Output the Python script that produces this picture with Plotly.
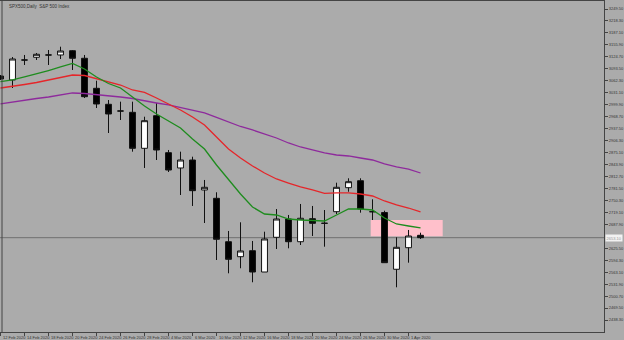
import plotly.graph_objects as go

# ---- data ----
idx = list(range(36))
open_ = [3074.8, 3064.4, 3116.5, 3123.6, 3129.6, 3129.6, 3140.8, 3121.0, 3042.7, 3001.0,
         2983.5, 2980.1, 2886.2, 2971.3, 2874.8, 2834.9, 2855.7, 2777.5, 2755.8, 2642.6,
         2603.5, 2619.2, 2563.6, 2654.1, 2701.8, 2642.6, 2702.6, 2690.6, 2720.9, 2783.5,
         2801.7, 2720.9, 2718.8, 2570.7, 2627.0, 2659.3]
high_ = [3077.4, 3124.3, 3129.6, 3134.8, 3142.6, 3151.2, 3142.6, 3129.6, 3062.5, 3012.2,
         3007.8, 3007.8, 2968.6, 3004.4, 2881.8, 2877.4, 2864.3, 2803.6, 2771.5, 2670.6,
         2693.2, 2644.5, 2668.7, 2727.9, 2712.3, 2741.0, 2735.8, 2725.3, 2796.5, 2808.0,
         2808.0, 2753.2, 2723.5, 2654.1, 2673.2, 2666.1]
low_ = [3064.4, 3043.5, 3103.5, 3116.5, 3103.5, 3119.1, 3090.4, 3017.4, 2991.3, 2926.1,
        2960.0, 2877.4, 2834.9, 2855.7, 2824.4, 2764.4, 2735.8, 2691.4, 2594.9, 2560.2,
        2573.3, 2536.8, 2563.6, 2623.6, 2625.4, 2634.0, 2657.5, 2629.6, 2714.9, 2773.0,
        2718.3, 2699.2, 2587.9, 2523.7, 2587.9, 2649.7]
close_ = [3067.0, 3119.1, 3116.5, 3131.4, 3129.6, 3140.0, 3121.0, 3020.8, 3001.8, 2975.7,
          2983.5, 2886.2, 2958.2, 2881.8, 2829.6, 2855.7, 2775.7, 2784.5, 2648.9, 2596.7,
          2618.4, 2563.6, 2649.7, 2701.8, 2642.6, 2703.7, 2690.6, 2690.6, 2784.5, 2799.1,
          2727.9, 2720.9, 2587.9, 2628.0, 2657.5, 2653.1]

ma_fast = [3059.9, 3064.4, 3072.2, 3080.0, 3089.1, 3098.3, 3107.4, 3093.0, 3072.2, 3055.2,
           3043.5, 3020.0, 2996.6, 2975.7, 2957.4, 2939.2, 2910.5, 2884.4, 2842.7, 2803.6,
           2767.0, 2733.1, 2714.9, 2712.3, 2701.8, 2699.2, 2697.9, 2696.6, 2712.3, 2727.9,
           2727.9, 2725.3, 2704.5, 2688.8, 2683.6, 2678.4]
ma_mid = [3043.5, 3047.4, 3052.6, 3057.8, 3064.4, 3070.9, 3077.4, 3076.1, 3068.3, 3060.4,
          3051.3, 3038.3, 3031.8, 3017.4, 3001.8, 2986.1, 2967.9, 2947.0, 2915.7, 2884.4,
          2860.9, 2840.1, 2821.8, 2806.2, 2795.7, 2785.3, 2777.5, 2768.4, 2769.7, 2769.7,
          2767.0, 2761.8, 2748.8, 2738.4, 2730.5, 2720.1]
ma_slow = [3001.8, 3007.0, 3012.2, 3016.1, 3020.0, 3025.2, 3030.5, 3029.2, 3026.6, 3023.9,
           3020.0, 3016.1, 3009.6, 3004.4, 2999.2, 2992.6, 2984.8, 2978.3, 2966.6, 2954.8,
           2943.1, 2934.0, 2923.5, 2913.1, 2900.1, 2889.6, 2881.8, 2874.0, 2868.8, 2866.2,
           2860.9, 2855.7, 2845.3, 2837.5, 2832.2, 2821.8]

date_ticks = [0, 2, 4, 6, 8, 10, 12, 14, 16, 18, 20, 22, 24, 26, 28, 30, 32, 34]
date_labels = ["12 Feb 2020", "14 Feb 2020", "18 Feb 2020", "20 Feb 2020", "24 Feb 2020",
               "26 Feb 2020", "28 Feb 2020", "4 Mar 2020", "6 Mar 2020", "10 Mar 2020",
               "12 Mar 2020", "16 Mar 2020", "18 Mar 2020", "20 Mar 2020", "24 Mar 2020",
               "26 Mar 2020", "30 Mar 2020", "1 Apr 2020"]

price_ticks = [3249.5, 3218.3, 3187.1, 3155.9, 3124.7, 3093.5, 3062.3, 3031.1, 2999.9,
               2968.7, 2937.5, 2906.3, 2875.1, 2843.9, 2812.7, 2781.5, 2750.3, 2719.1,
               2687.9, 2625.5, 2594.3, 2563.1, 2531.9, 2500.7, 2469.5, 2438.3]

zone_x = [30.85, 36.85]
zone_y = [2656.7, 2699.0]
last_price = close_[-1]
title_text = "SPX500,Daily  S&P 500 Index"

# ---- figure ----
BG = "#ABABAB"
AX = "#444444"
fig = go.Figure()

fig.add_trace(go.Scatter(x=idx, y=ma_slow, mode="lines",
                         line=dict(color="#8E2A9C", width=1.3), hoverinfo="skip"))
fig.add_trace(go.Scatter(x=idx, y=ma_mid, mode="lines",
                         line=dict(color="#E5262A", width=1.3), hoverinfo="skip"))
fig.add_trace(go.Scatter(x=idx, y=ma_fast, mode="lines",
                         line=dict(color="#1E8C1E", width=1.3), hoverinfo="skip"))

fig.add_trace(go.Candlestick(
    x=idx, open=open_, high=high_, low=low_, close=close_,
    increasing=dict(line=dict(color="#111111", width=1), fillcolor="#FFFFFF"),
    decreasing=dict(line=dict(color="#111111", width=1), fillcolor="#000000"),
    whiskerwidth=0, hoverinfo="skip"))

fig.add_shape(type="rect", x0=zone_x[0], x1=zone_x[1], y0=zone_y[0], y1=zone_y[1],
              xref="x", yref="y", fillcolor="#FFC0CB", line=dict(width=0), layer="below")
fig.add_shape(type="line", x0=0, x1=1, xref="paper", y0=last_price, y1=last_price,
              yref="y", line=dict(color="#707070", width=1), layer="below")
# left frame line of the chart window
fig.add_shape(type="line", x0=2 / 604, x1=2 / 604, xref="paper", y0=0, y1=1,
              yref="paper", line=dict(color=AX, width=1))

fig.add_annotation(x=1, xref="paper", xanchor="left", y=last_price, yref="y",
                   text=f"{last_price:.2f}", showarrow=False,
                   font=dict(size=4, color="#9A9A9A", family="Arial"),
                   bgcolor="#F2F2F2", borderpad=0.5, xshift=1)

fig.add_annotation(x=0, y=1, xref="paper", yref="paper", xanchor="left", yanchor="top",
                   text=title_text, showarrow=False, xshift=7, yshift=-1,
                   font=dict(size=4.5, color="#333333", family="Arial"))

for t, lab in zip(date_ticks, date_labels):
    fig.add_annotation(x=t, y=0, xref="x", yref="paper", xanchor="left", yanchor="top",
                       text=lab, showarrow=False, xshift=0, yshift=-1,
                       font=dict(size=4, color="#333333", family="Arial"))

fig.update_layout(
    width=624, height=340,
    margin=dict(l=0, r=20, t=1, b=8),
    paper_bgcolor=BG, plot_bgcolor=BG,
    showlegend=False,
    boxgap=0.3,
    xaxis=dict(range=[-0.0417, 50.29], showgrid=False, zeroline=False,
               tickvals=date_ticks, ticktext=[""] * len(date_ticks),
               ticks="outside", ticklen=3, tickcolor=AX,
               showline=True, linecolor=AX, linewidth=1, mirror=True,
               rangeslider=dict(visible=False), fixedrange=True),
    yaxis=dict(range=[2407.1, 3270.4], side="right", showgrid=False, zeroline=False,
               tickvals=price_ticks, ticktext=[f"{v:.2f}" for v in price_ticks],
               ticks="outside", ticklen=3, tickcolor=AX,
               tickfont=dict(size=4, color="#333333", family="Arial"),
               showline=True, linecolor=AX, linewidth=1, mirror=True,
               fixedrange=True),
)

fig.write_html("out.html")
